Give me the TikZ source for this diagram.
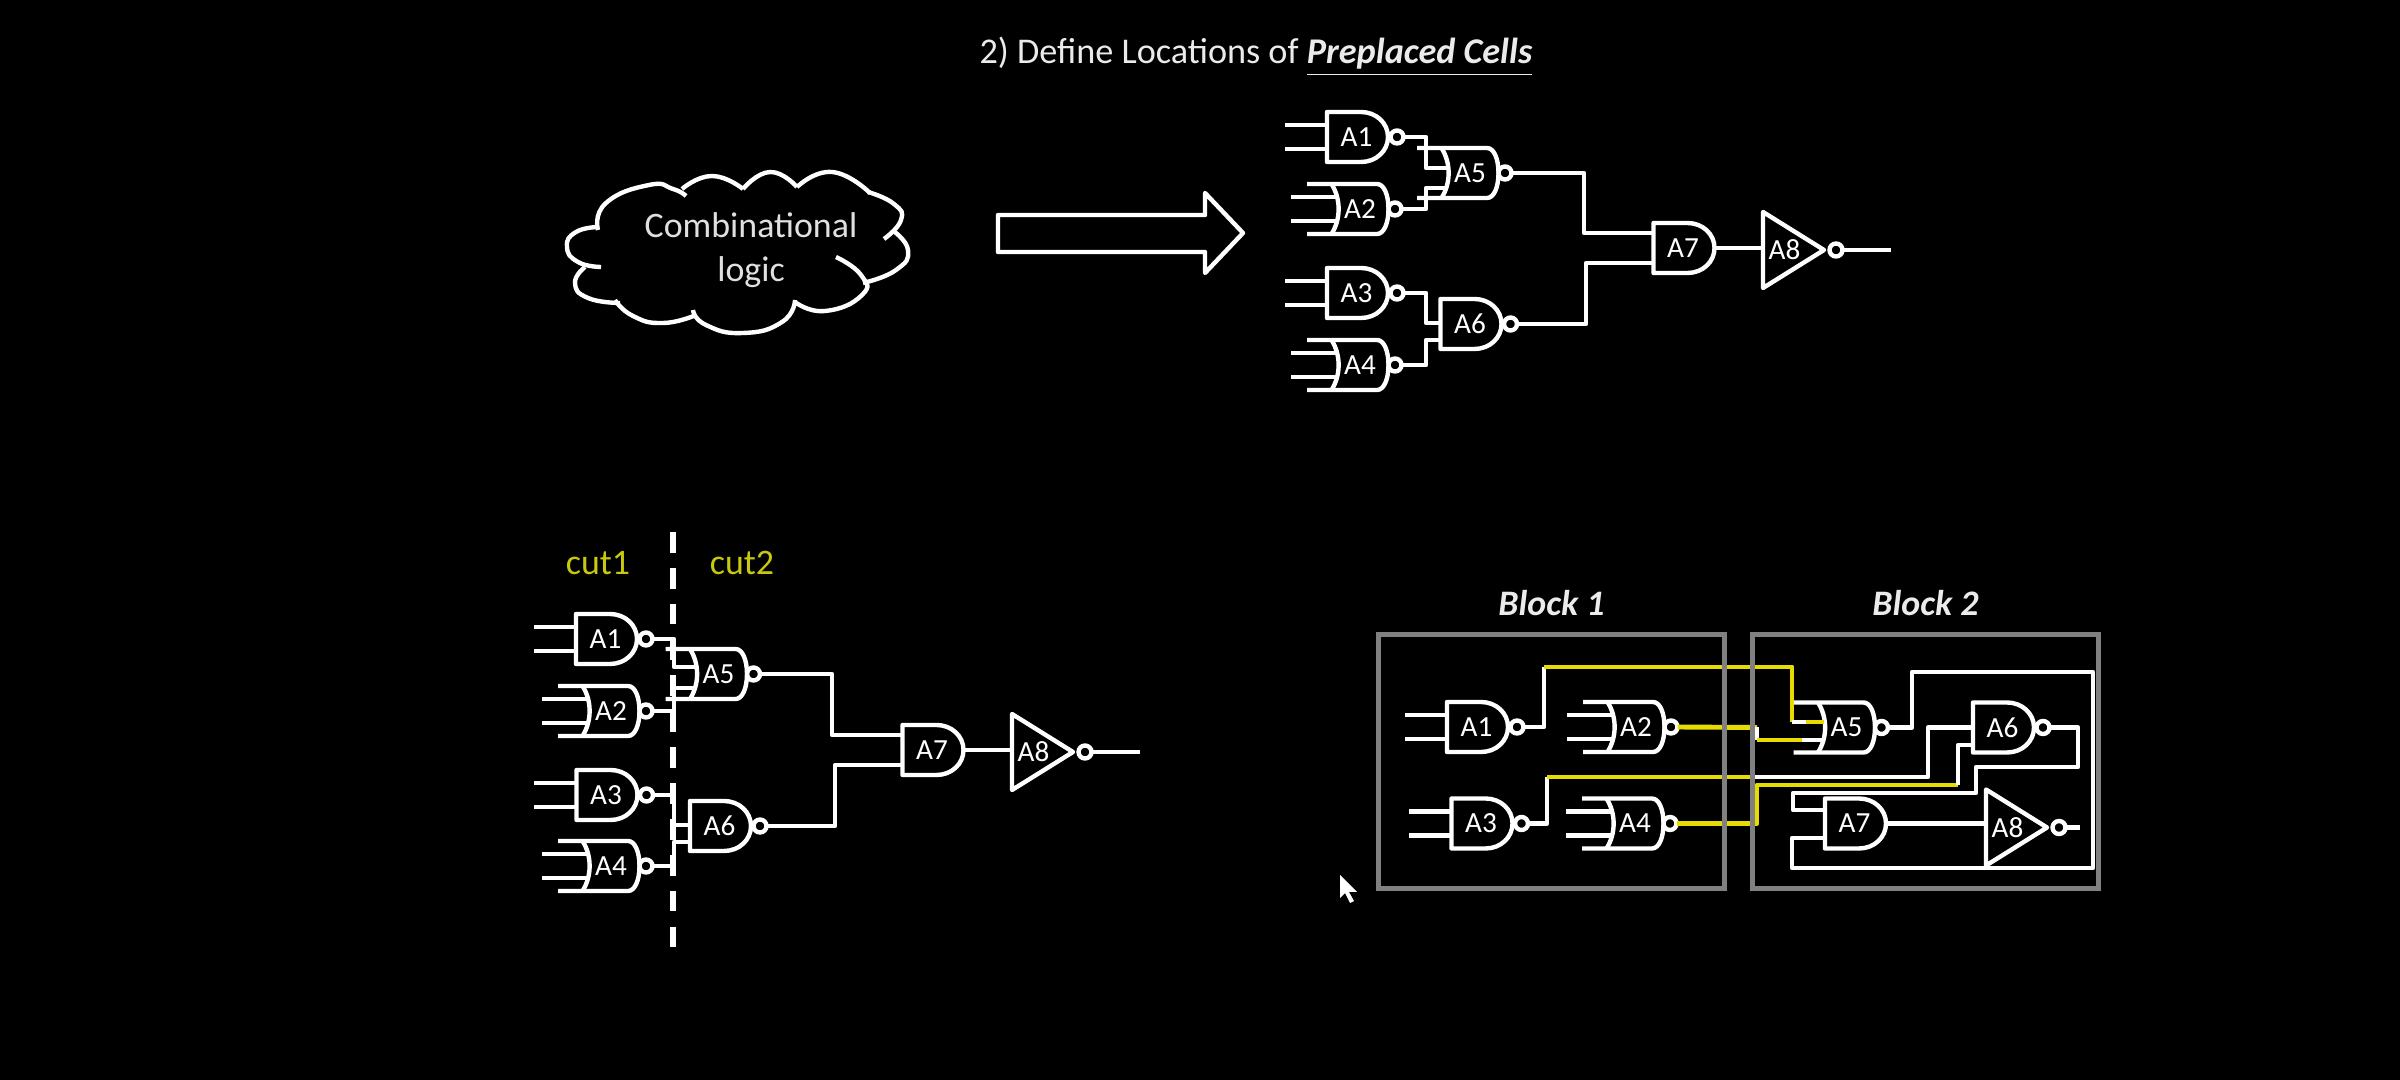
\documentclass[tikz,border=0pt]{standalone}
\usepackage{fontspec}
\setmainfont{Carlito}
\usetikzlibrary{positioning}
\definecolor{wire yellow}{HTML}{E6DC00}
\definecolor{cut yellow}{HTML}{C8C810}
\definecolor{block gray}{HTML}{808080}
\tikzset{
  wire/.style={draw=white, line width=1.25pt, line join=round},
  yellow wire/.style={wire, draw=wire yellow, line width=1.4pt},
  gate label/.style={text=white, font=\fontsize{8.3}{10}\selectfont, inner sep=0pt},
  cut label/.style={text=cut yellow, font=\fontsize{10.2}{12}\selectfont},
  block box/.style={
    draw=block gray,
    line width=1.4pt,
    minimum width=3.45cm,
    minimum height=2.53cm,
  },
  block title/.style={
    text=white!92!black,
    font=\fontsize{10.2}{12}\selectfont\bfseries\itshape,
  },
  pics/nandcell/.style 2 args={code={
    \draw [wire] (3.5,-25) -- (-30.5,-25) -- (-30.5,25) -- (3.5,25)
      .. controls (18.5,25) and (30.5,14) .. (30.5,0)
      .. controls (30.5,-14) and (18.5,-25) .. (3.5,-25);
    \draw [wire] (39.5,0) circle (0.065cm);
    \node [gate label] (-label) at (-1,0) {\tikzpictext};
    \coordinate (-in1) at (-30.5,#1);
    \coordinate (-in2) at (-30.5,#2);
    \coordinate (-lead1) at (-73,#1);
    \coordinate (-lead2) at (-73,#2);
    \coordinate (-out) at (46,0);
  }},
  pics/andcell/.style 2 args={code={
    \draw [wire] (3.5,-25) -- (-30.5,-25) -- (-30.5,25) -- (3.5,25)
      .. controls (18.5,25) and (30.5,14) .. (30.5,0)
      .. controls (30.5,-14) and (18.5,-25) .. (3.5,-25);
    \node [gate label] (-label) at (-1,0) {\tikzpictext};
    \coordinate (-in1) at (-30.5,#1);
    \coordinate (-in2) at (-30.5,#2);
    \coordinate (-out) at (30.5,0);
  }},
  pics/norcell/.style 2 args={code={
    \draw [wire] (-53,-25) -- (17,-25)
      .. controls (24,-25) and (28.5,-14) .. (28.5,0)
      .. controls (28.5,14) and (24,25) .. (17,25) -- (-53,25);
    \draw [wire] (-28.5,-25) .. controls (-19,-10) and (-19,10) .. (-28.5,25);
    \draw [wire] (35,0) circle (0.065cm);
    \node [gate label] (-label) at (0,0) {\tikzpictext};
    \coordinate (-in1) at (-23,#1);
    \coordinate (-in2) at (-23,#2);
    \coordinate (-lead1) at (-69,#1);
    \coordinate (-lead2) at (-69,#2);
    \coordinate (-out) at (41.5,0);
  }},
  pics/invcell/.style={code={
    \draw [wire] (-30.5,-38) -- (30.5,0) -- (-30.5,38) -- cycle;
    \draw [wire] (42.5,0) circle (0.065cm);
    \node [gate label] (-label) at (-9,0) {\tikzpictext};
    \coordinate (-in) at (-30.5,0);
    \coordinate (-out) at (49,0);
  }},
}
\begin{document}
\begin{tikzpicture}[x=0.01cm, y=-0.01cm]
        \fill [black] (0,0) rectangle (2400,1080);
        \useasboundingbox (0,0) rectangle (2400,1080);

        \node [text=white!92!black, font=\fontsize{10.3}{12}\selectfont] (heading) at (1256,57)
          {2) Define Locations of \underline{\textbf{\textit{Preplaced Cells}}}};

        \draw [wire] plot [smooth, tension=0.9] coordinates {(601,267) (578,262) (567,247) (576,232) (599,227)};
        \draw [wire] plot [smooth, tension=0.9] coordinates {(598,230) (606,203) (649,185) (673,189) (686,196)};
        \draw [wire] plot [smooth, tension=0.9] coordinates {(682,189) (712,176) (743,189)};
        \draw [wire] plot [smooth, tension=0.9] coordinates {(743,189) (770,172) (797,187)};
        \draw [wire] plot [smooth, tension=0.9] coordinates {(797,187) (832,172) (870,193)};
        \draw [wire] plot [smooth, tension=0.9] coordinates {(868,192) (894,204) (901,220) (884,239)};
        \draw [wire] plot [smooth, tension=0.9] coordinates {(892,230) (908,250) (896,270) (863,283)};
        \draw [wire] plot [smooth, tension=0.9] coordinates {(836,257) (861,275) (862,295) (825,311) (795,302)};
        \draw [wire] plot [smooth, tension=0.9] coordinates {(795,300) (782,322) (743,333) (706,325) (693,310)};
        \draw [wire] plot [smooth, tension=0.9] coordinates {(696,315) (663,323) (633,316) (615,300)};
        \draw [wire] plot [smooth, tension=0.9] coordinates {(620,303) (588,298) (575,283) (585,267)};
        \node [text=white!88!black, align=center, font=\fontsize{10.2}{12.6}\selectfont] (logic) at (751,250) {Combinational\\logic};

        \draw [wire] (998,215) -- (1205,215) -- (1205,193) -- (1243,233) -- (1205,273) -- (1205,252) -- (998,252) -- cycle;

        \pic [pic text=A1] (ta1) at (1357.5,137) {nandcell={-12}{12}};
        \pic [pic text=A2] (ta2) at (1360,209) {norcell={-12}{12}};
        \pic [pic text=A3] (ta3) at (1357.5,293) {nandcell={-12}{12}};
        \pic [pic text=A4] (ta4) at (1360,365) {norcell={-12}{12}};
        \pic [pic text=A5] (ta5) at (1470,173) {norcell={-5}{15}};
        \pic [pic text=A6] (ta6) at (1471,324) {nandcell={-1}{16}};
        \pic [pic text=A7] (ta7) at (1684,248) {andcell={-15}{15}};
        \pic [pic text=A8] (ta8) at (1793.5,250) {invcell};
        \coordinate (tj1) at (1426,0);
        \coordinate (tj2) at (1426,0);
        \coordinate (tj3) at (1584,0);
        \coordinate (tj4) at (1586,0);
        \coordinate (tend) at (1891,250);
        \draw [wire] (ta1-out) -| (tj1 |- ta5-in1) -- (ta5-in1);
        \draw [wire] (ta2-out) -| (tj1 |- ta5-in2) -- (ta5-in2);
        \draw [wire] (ta3-out) -| (tj2 |- ta6-in1) -- (ta6-in1);
        \draw [wire] (ta4-out) -| (tj2 |- ta6-in2) -- (ta6-in2);
        \draw [wire] (ta5-out) -| (tj3 |- ta7-in1) -- (ta7-in1);
        \draw [wire] (ta6-out) -| (tj4 |- ta7-in2) -- (ta7-in2);
        \draw [wire] (ta7-out) -- (ta8-in |- ta7-out);
        \draw [wire] (ta8-out) -- (tend);

        \node [cut label] (cut1) at (598,563) {cut1};
        \node [cut label] (cut2) at (742,563) {cut2};
        \coordinate (cuttop) at (673,532);
        \coordinate (cutbottom) at (673,953);
        \draw [draw=white, line width=1.5pt, dash pattern=on 5.9pt off 4.3pt] (cuttop) -- (cutbottom);

        \pic [pic text=A1] (la1) at (606.5,639) {nandcell={-12}{12}};
        \pic [pic text=A2] (la2) at (611,711) {norcell={-12}{12}};
        \pic [pic text=A3] (la3) at (607,795) {nandcell={-12}{12}};
        \pic [pic text=A4] (la4) at (611,866) {norcell={-12}{12}};
        \pic [pic text=A5] (la5) at (718.5,674) {norcell={-7}{14}};
        \pic [pic text=A6] (la6) at (720.5,826) {nandcell={-1}{16}};
        \pic [pic text=A7] (la7) at (933,750) {andcell={-15}{15}};
        \pic [pic text=A8] (la8) at (1042.5,752) {invcell};
        \coordinate (lj1) at (674,0);
        \coordinate (lj2) at (832,0);
        \coordinate (lj3) at (835,0);
        \coordinate (lend) at (1140,752);
        \draw [wire] (la1-out) -| (lj1 |- la5-in1) -- (la5-in1);
        \draw [wire] (la2-out) -| (lj1 |- la5-in2) -- (la5-in2);
        \draw [wire] (la3-out) -| (lj1 |- la6-in1) -- (la6-in1);
        \draw [wire] (la4-out) -| (lj1 |- la6-in2) -- (la6-in2);
        \draw [wire] (la5-out) -| (lj2 |- la7-in1) -- (la7-in1);
        \draw [wire] (la6-out) -| (lj3 |- la7-in2) -- (la7-in2);
        \draw [wire] (la7-out) -- (la8-in |- la7-out);
        \draw [wire] (la8-out) -- (lend);

        \pic [pic text=A1] (ba1) at (1477.5,727) {nandcell={-12}{12}};
        \pic [pic text=A2] (ba2) at (1636,727) {norcell={-12}{12}};
        \pic [pic text=A3] (ba3) at (1482,823.5) {nandcell={-12}{12}};
        \pic [pic text=A4] (ba4) at (1635,823.5) {norcell={-12}{12}};
        \pic [pic text=A5] (ba5) at (1846.5,727.5) {norcell={-5.5}{12.5}};
        \pic [pic text=A6] (ba6) at (2003.5,727.5) {nandcell={0}{17.5}};
        \pic [pic text=A7] (ba7) at (1855.5,823.5) {andcell={-13.5}{14.5}};
        \pic [pic text=A8] (ba8) at (2016.5,827.5) {invcell};

        \foreach \g in {ta1,ta2,ta3,ta4,la1,la2,la3,la4,ba1,ba2,ba3,ba4}
          \draw [wire] (\g-in1) -- (\g-lead1) (\g-in2) -- (\g-lead2);

        \coordinate (bj1) at (1544,667);
        \coordinate (bk1) at (1792,722);
        \coordinate (bp1) at (1806,722);
        \coordinate (bj3) at (1757,727.5);
        \coordinate (bk2) at (1757,740);
        \coordinate (bp2) at (1802,740);
        \coordinate (bj4) at (1547,777);
        \coordinate (bj5) at (1752,777);
        \coordinate (bj6) at (1928,777);
        \coordinate (bj7) at (1757,785);
        \coordinate (bj8) at (1958,785);
        \coordinate (bj9) at (1912,672);
        \coordinate (bj10) at (2093,868);
        \coordinate (bj11) at (1792,868);
        \coordinate (bj12) at (2078,767);
        \coordinate (bj13) at (1976,767);
        \coordinate (bj14) at (1793,793);
        \coordinate (bend) at (2080,827.5);
        \draw [wire] (ba1-out) -| (bj1);
        \draw [yellow wire] (bj1) -| (bk1);
        \draw [wire] (bk1) -- (bp1);
        \draw [yellow wire] (bp1) -- (ba5-in1);
        \draw [yellow wire] (ba2-out) -- (bj3);
        \draw [wire] (bj3) -- (bk2);
        \draw [yellow wire] (bk2) -- (bp2);
        \draw [wire] (bp2) -- (ba5-in2);
        \draw [wire] (ba3-out) -| (bj4);
        \draw [yellow wire] (bj4) -- (bj5);
        \draw [wire] (bj5) -- (bj6) |- (ba6-in1);
        \draw [yellow wire] (ba4-out) -| (bj7) -- (bj8);
        \draw [wire] (bj8) |- (ba6-in2);
        \draw [wire] (ba5-out) -| (bj9) -| (bj10) -- (bj11) |- (ba7-in2);
        \draw [wire] (ba6-out) -| (bj12) -- (bj13) |- (bj14) |- (ba7-in1);
        \draw [wire] (ba7-out) -- (ba8-in |- ba7-out);
        \draw [wire] (ba8-out) -- (bend);

        \node [block box] (block1) at (1551.5,761.5) {};
        \node [block box] (block2) at (1925.5,761.5) {};
        \node [block title, above=0.04cm of block1] (title1) {Block 1};
        \node [block title, above=0.04cm of block2] (title2) {Block 2};

        \fill [white] (1340,875) -- (1340,898) -- (1345,893) -- (1350,903) -- (1354,901) -- (1349,892) -- (1357,892) -- cycle;
      \end{tikzpicture}
\end{document}
